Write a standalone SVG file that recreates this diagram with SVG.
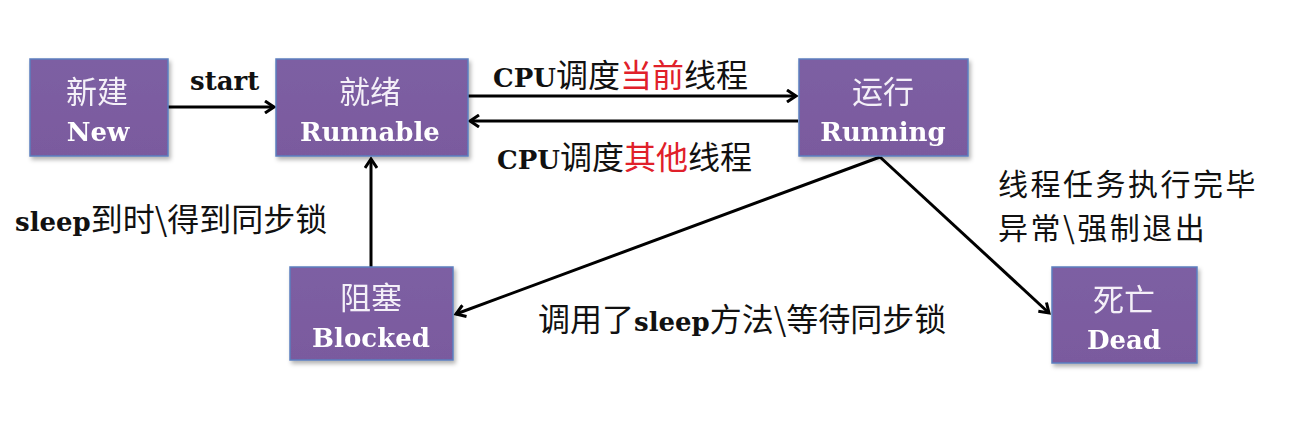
<svg xmlns="http://www.w3.org/2000/svg" width="1302" height="424" viewBox="0 0 1302 424">
<style>
.box{fill:url(#g);stroke:#5b7fbf;stroke-width:1.5}
.cn{font-family:"Noto Sans CJK SC","DejaVu Sans",sans-serif;font-size:31px;fill:#f4f0f8;text-anchor:middle}
.en{font-family:"DejaVu Serif","Liberation Serif",serif;font-weight:bold;font-size:26px;fill:#fff;text-anchor:middle}
.lbl{font-family:"Noto Sans CJK SC",sans-serif;font-size:32px;fill:#111}
.sm{font-size:30px;letter-spacing:2.5px}
.b{font-family:"DejaVu Serif","Liberation Serif",serif;font-weight:bold;font-size:26px}
.red{fill:#e0202a}
.ln{stroke:#000;stroke-width:3;fill:none;marker-end:url(#a)}
</style>
<defs>
<linearGradient id="g" x1="0" y1="0" x2="0" y2="1">
<stop offset="0" stop-color="#7d5fa3"/>
<stop offset="1" stop-color="#7a5a9e"/>
</linearGradient>
<filter id="sh" x="-10%" y="-10%" width="130%" height="130%"><feDropShadow dx="2" dy="3" stdDeviation="2" flood-color="#000" flood-opacity="0.3"/></filter>
<marker id="a" markerWidth="14" markerHeight="14" refX="11" refY="7" orient="auto" markerUnits="userSpaceOnUse">
<path d="M2,1 L11,7 L2,13" fill="none" stroke="#000" stroke-width="3"/>
</marker>
</defs>
<rect width="1302" height="424" fill="#fff"/>
<g id="connectors">
<line class="ln" x1="168" y1="107" x2="274" y2="107"/>
<line class="ln" x1="468" y1="96" x2="796" y2="96"/>
<line class="ln" x1="798" y1="121" x2="470" y2="121"/>
<line class="ln" x1="371" y1="267" x2="371" y2="159"/>
<line class="ln" x1="880" y1="157" x2="456" y2="314"/>
<line class="ln" x1="880" y1="157" x2="1049" y2="313"/>
</g>
<g id="labels">
<text class="lbl b" x="190" y="90">start</text>
<text class="lbl" x="493" y="87"><tspan class="b">CPU</tspan>调度<tspan class="red">当前</tspan>线程</text>
<text class="lbl" x="497" y="169"><tspan class="b">CPU</tspan>调度<tspan class="red">其他</tspan>线程</text>
<text class="lbl" x="15" y="231"><tspan class="b">sleep</tspan>到时\得到同步锁</text>
<text class="lbl sm" x="998" y="195">线程任务执行完毕</text>
<text class="lbl sm" x="998" y="239">异常\强制退出</text>
<text class="lbl" x="538" y="331">调用了<tspan class="b">sleep</tspan>方法\等待同步锁</text>
</g>
<g id="node-new" filter="url(#sh)">
<rect class="box" x="30" y="59" width="138" height="97"/>
<text class="cn" x="97" y="103">新建</text>
<text class="en" x="98" y="141">New</text>
</g>
<g id="node-runnable" filter="url(#sh)">
<rect class="box" x="276" y="59" width="192" height="97"/>
<text class="cn" x="370" y="103">就绪</text>
<text class="en" x="370" y="141">Runnable</text>
</g>
<g id="node-running" filter="url(#sh)">
<rect class="box" x="799" y="59" width="169" height="97"/>
<text class="cn" x="883" y="103">运行</text>
<text class="en" x="883" y="141">Running</text>
</g>
<g id="node-blocked" filter="url(#sh)">
<rect class="box" x="290" y="267" width="163" height="93"/>
<text class="cn" x="371" y="309">阻塞</text>
<text class="en" x="371" y="347">Blocked</text>
</g>
<g id="node-dead" filter="url(#sh)">
<rect class="box" x="1052" y="267" width="145" height="96"/>
<text class="cn" x="1124" y="311">死亡</text>
<text class="en" x="1124" y="349">Dead</text>
</g>
</svg>
